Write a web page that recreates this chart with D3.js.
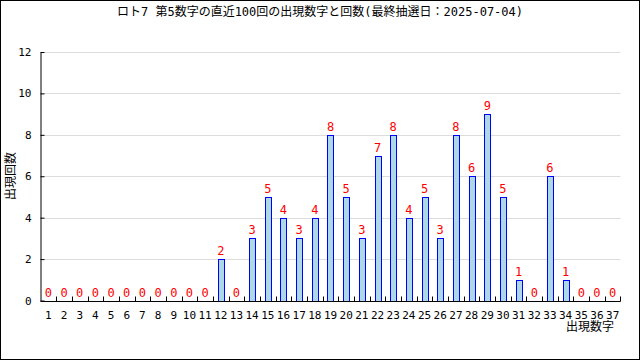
<!DOCTYPE html>
<html lang="ja">
<head>
<meta charset="UTF-8">
<title>ロト7 第5数字</title>
<script src="https://d3js.org/d3.v7.min.js"></script>
<style>
    body { margin: 0; background: #fff; }
    svg { display: block; }
    text { font-family: "DejaVu Sans Mono", "Noto Sans CJK JP", monospace; }
</style>
</head>
<body>
<div id="chart"></div>
<script>
    // data
    const numbers = d3.range(1, 38);
    const counts = [0,0,0,0,0,0,0,0,0,0,0,2,0,3,5,4,3,4,8,5,3,7,8,4,5,3,8,6,9,5,1,0,6,1,0,0,0];
    const yTicks = [0, 2, 4, 6, 8, 10, 12];
    const title = "ロト7 第5数字の直近100回の出現数字と回数(最終抽選日：2025-07-04)";

    const width = 640, height = 360;
    const margin = { top: 52, right: 19.5, bottom: 59.5, left: 40.5 };

    const svg = d3.select("#chart").append("svg")
        .attr("width", width)
        .attr("height", height);

    svg.append("rect")
        .attr("x", 0.5).attr("y", 0.5)
        .attr("width", width - 1).attr("height", height - 1)
        .attr("fill", "#fff").attr("stroke", "#000");

    const x = d3.scaleBand()
        .domain(numbers)
        .range([margin.left, width - margin.right]);

    const y = d3.scaleLinear()
        .domain([0, 12])
        .range([height - margin.bottom, margin.top]);

    // grid
    svg.append("g")
        .selectAll("line")
        .data(yTicks.filter(d => d > 0))
        .join("line")
        .attr("x1", margin.left)
        .attr("x2", width - margin.right)
        .attr("y1", d => Math.round(y(d)) + 0.5)
        .attr("y2", d => Math.round(y(d)) + 0.5)
        .attr("stroke", "#dcdcdc");

    // bars
    const bw = 6;
    svg.append("g")
        .selectAll("rect")
        .data(counts.map((c, i) => ({ n: numbers[i], c })).filter(d => d.c > 0))
        .join("rect")
        .attr("x", d => Math.round(x(d.n) + x.bandwidth() / 2 - bw / 2) + 0.5)
        .attr("y", d => Math.round(y(d.c)) + 0.5)
        .attr("width", bw)
        .attr("height", d => Math.round(y(0)) - Math.round(y(d.c)))
        .attr("fill", "#add8e6")
        .attr("stroke", "#0000ff");

    // value labels
    svg.append("g")
        .selectAll("text")
        .data(counts.map((c, i) => ({ n: numbers[i], c })))
        .join("text")
        .attr("x", d => x(d.n) + x.bandwidth() / 2)
        .attr("y", d => y(d.c) - 4)
        .attr("text-anchor", "middle")
        .attr("font-size", 12)
        .attr("fill", "#ff0000")
        .text(d => d.c);

    // y axis
    const yAxis = svg.append("g")
        .attr("transform", `translate(${margin.left},0)`)
        .call(d3.axisLeft(y).tickValues(yTicks).tickSizeInner(-4).tickSizeOuter(0).tickPadding(9));
    yAxis.select(".domain").attr("stroke", "#000");
    yAxis.selectAll("text").attr("font-size", 11).attr("font-family", "DejaVu Sans Mono").attr("fill", "#000");

    // x axis
    const xAxisG = svg.append("g")
        .attr("transform", `translate(0,${Math.round(y(0)) + 0.5})`);
    xAxisG.append("line")
        .attr("x1", margin.left).attr("x2", width - margin.right)
        .attr("stroke", "#000");
    xAxisG.selectAll(".tk")
        .data(numbers)
        .join("line")
        .attr("class", "tk")
        .attr("x1", d => Math.round(x(d) + x.bandwidth()) + 0.5)
        .attr("x2", d => Math.round(x(d) + x.bandwidth()) + 0.5)
        .attr("y1", 0).attr("y2", -5)
        .attr("stroke", "#000");
    xAxisG.selectAll(".lbl")
        .data(numbers)
        .join("text")
        .attr("class", "lbl")
        .attr("x", d => x(d) + x.bandwidth() / 2)
        .attr("y", 17)
        .attr("text-anchor", "middle")
        .attr("font-size", 11)
        .text(d => d);

    // titles
    svg.append("text")
        .attr("x", 320).attr("y", 16)
        .attr("text-anchor", "middle")
        .attr("font-size", 12)
        .text(title);

    svg.append("text")
        .attr("transform", "translate(15,176) rotate(-90)")
        .attr("text-anchor", "middle")
        .attr("font-size", 12)
        .text("出現回数");

    svg.append("text")
        .attr("x", 614).attr("y", 331)
        .attr("text-anchor", "end")
        .attr("font-size", 12)
        .text("出現数字");
</script>
</body>
</html>
